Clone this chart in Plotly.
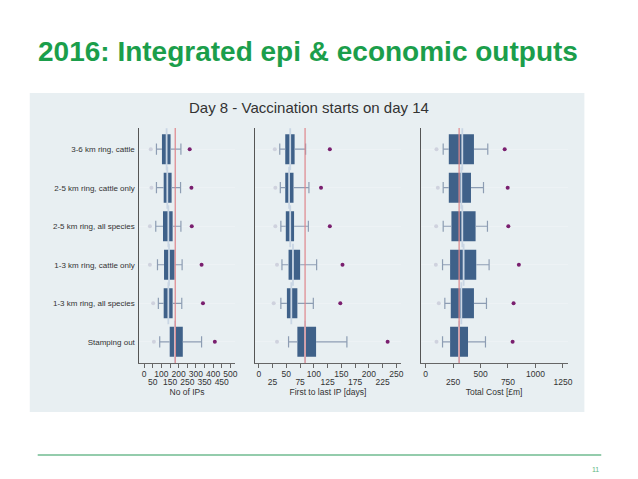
import plotly.graph_objects as go

categories = ["3-6 km ring, cattle", "2-5 km ring, cattle only", "2-5 km ring, all species",
              "1-3 km ring, cattle only", "1-3 km ring, all species", "Stamping out"]

# Panel 1: No of IPs
ips_low = [38, 42, 33, 33, 52, 56]
ips_wlo = [71, 71, 67, 77, 82, 90]
ips_q1 = [103, 113, 109, 115, 113, 148]
ips_med = [130, 134, 140, 144, 140, 178]
ips_q3 = [153, 159, 165, 176, 165, 224]
ips_whi = [213, 211, 213, 220, 218, 333]
ips_high = [264, 274, 276, 333, 341, 410]

# Panel 2: First to last IP [days]
days_low = [29, 30, 30, 33, 27, 33]
days_wlo = [38, 39, 40, 42, 40, 54]
days_q1 = [48, 48, 49, 54, 51, 70]
days_med = [57, 55, 57, 62, 59, 84]
days_q3 = [65, 63, 64, 75, 70, 104]
days_whi = [85, 91, 90, 105, 99, 160]
days_high = [129, 113, 129, 152, 148, 234]

# Panel 3: Total Cost [£m]
cost_low = [99, 111, 96, 93, 120, 99]
cost_wlo = [160, 160, 160, 154, 175, 154]
cost_q1 = [211, 211, 235, 223, 229, 223]
cost_med = [334, 325, 334, 346, 325, 304]
cost_q3 = [440, 413, 455, 461, 440, 386]
cost_whi = [566, 527, 563, 578, 554, 545]
cost_high = [720, 747, 753, 849, 801, 792]

# reference lines (stamping-out median)
ref_values = [180, 84, 305]

# tick labels (two staggered rows)
ips_ticks_top = [0, 100, 200, 300, 400, 500]
ips_ticks_bottom = [50, 150, 250, 350, 450]
days_ticks_top = [0, 50, 100, 150, 200, 250]
days_ticks_bottom = [25, 75, 125, 175, 225]
cost_ticks_top = [0, 500, 1000]
cost_ticks_bottom = [250, 750, 1250]

axis_titles = ["No of IPs", "First to last IP [days]", "Total Cost [£m]"]

W, H = 638, 479
def fx(px):
    return px / W
def fy(py):
    return 1 - py / H

FONT = "Liberation Sans, Arial, sans-serif"
BOX_COLOR = "#3f6189"
WHISK_COLOR = "#8d9db3"
MED_COLOR = "#c9d6e4"
LOW_COLOR = "#cfd2de"
HIGH_COLOR = "#7a1f6f"
RED = "#e0868b"
TXT = "#333333"

panels = [
    (ips_low, ips_wlo, ips_q1, ips_med, ips_q3, ips_whi, ips_high),
    (days_low, days_wlo, days_q1, days_med, days_q3, days_whi, days_high),
    (cost_low, cost_wlo, cost_q1, cost_med, cost_q3, cost_whi, cost_high),
]
tick_sets = [
    (ips_ticks_top, ips_ticks_bottom),
    (days_ticks_top, days_ticks_bottom),
    (cost_ticks_top, cost_ticks_bottom),
]
x_ranges = [[-28, 525], [-7, 258], [-45, 1292]]
x_domains = [[fx(140.5), fx(236.5)], [fx(257), fx(404)], [fx(424), fx(572)]]
y_domain = [fy(363), fy(128)]

fig = go.Figure()

for i, (low, wlo, q1, med, q3, whi, high) in enumerate(panels):
    xa = "x" if i == 0 else f"x{i+1}"
    ya = "y" if i == 0 else f"y{i+1}"
    # box bodies
    fig.add_trace(go.Bar(
        y=categories, x=[b - a for a, b in zip(q1, q3)], base=q1,
        orientation="h", width=0.78, marker=dict(color=BOX_COLOR, line=dict(width=0)),
        xaxis=xa, yaxis=ya, showlegend=False, hoverinfo="skip"))
    # whiskers
    wx, wy = [], []
    for c, a, b, c2, d in zip(categories, wlo, q1, q3, whi):
        wx += [a, b, None, c2, d, None]
        wy += [c, c, None, c, c, None]
    fig.add_trace(go.Scatter(x=wx, y=wy, mode="lines", line=dict(color=WHISK_COLOR, width=1.2),
                             xaxis=xa, yaxis=ya, showlegend=False, hoverinfo="skip"))
    # whisker caps
    fig.add_trace(go.Scatter(x=wlo + whi, y=categories + categories, mode="markers",
                             marker=dict(symbol="line-ns", size=8, line=dict(color=WHISK_COLOR, width=1.2)),
                             xaxis=xa, yaxis=ya, showlegend=False, hoverinfo="skip"))
    # medians
    fig.add_trace(go.Scatter(x=med, y=categories, mode="markers",
                             marker=dict(symbol="line-ns", size=30, line=dict(color=MED_COLOR, width=1.8)),
                             xaxis=xa, yaxis=ya, showlegend=False, hoverinfo="skip"))
    # low / high points
    fig.add_trace(go.Scatter(x=low, y=categories, mode="markers",
                             marker=dict(symbol="circle", size=4, color=LOW_COLOR),
                             xaxis=xa, yaxis=ya, showlegend=False, hoverinfo="skip"))
    fig.add_trace(go.Scatter(x=high, y=categories, mode="markers",
                             marker=dict(symbol="circle", size=4, color=HIGH_COLOR),
                             xaxis=xa, yaxis=ya, showlegend=False, hoverinfo="skip"))
    # invisible carrier trace so the staggered second tick row axis is drawn
    fig.add_trace(go.Scatter(x=tick_sets[i][1], y=[categories[0]] * len(tick_sets[i][1]),
                             mode="markers", marker=dict(size=1, opacity=0),
                             xaxis=f"x{i+4}", yaxis=ya, showlegend=False, hoverinfo="skip"))

layout = dict(
    width=W, height=H, autosize=False,
    margin=dict(l=0, r=0, t=0, b=0, pad=0),
    paper_bgcolor="white", plot_bgcolor="white",
    barmode="overlay", showlegend=False,
    font=dict(family=FONT, color=TXT),
)

for i in range(3):
    top, bottom = tick_sets[i]
    vals = sorted(top + bottom)
    texts = [str(v) if v in top else "" for v in vals]
    xkey = "xaxis" if i == 0 else f"xaxis{i+1}"
    okey = f"xaxis{i+4}"
    ykey = "yaxis" if i == 0 else f"yaxis{i+1}"
    ya = "y" if i == 0 else f"y{i+1}"
    xa = "x" if i == 0 else f"x{i+1}"
    layout[xkey] = dict(
        domain=x_domains[i], anchor=ya, range=x_ranges[i],
        tickmode="array", tickvals=vals, ticktext=texts, tickangle=0,
        ticks="outside", ticklen=4, tickcolor="#666666", tickwidth=1,
        showline=True, linecolor="#666666", linewidth=1,
        showgrid=False, zeroline=False,
        tickfont=dict(size=8.5, color=TXT, family=FONT),
        ticklabelstandoff=-1,
        fixedrange=True,
    )
    # second (staggered) row of tick labels + axis title
    layout[okey] = dict(
        overlaying=xa, anchor=ya, side="bottom", range=x_ranges[i],
        tickmode="array", tickvals=bottom, ticktext=[str(v) for v in bottom], tickangle=0,
        ticks="outside", ticklen=4, tickcolor="rgba(0,0,0,0)",
        showline=False, showgrid=False, zeroline=False,
        tickfont=dict(size=8.5, color=TXT, family=FONT),
        ticklabelstandoff=7,
        title=dict(text=axis_titles[i], font=dict(size=8.5, color=TXT, family=FONT), standoff=0),
        fixedrange=True,
    )
    layout[ykey] = dict(
        domain=y_domain, anchor=xa, type="category",
        categoryorder="array", categoryarray=categories,
        range=[5.55, -0.55],
        showline=True, linecolor="#555555", linewidth=1,
        showgrid=True, gridcolor="#edf2f5", gridwidth=1,
        zeroline=False, ticks="", showticklabels=(i == 0),
        tickfont=dict(size=8, color=TXT, family=FONT),
        ticklabelstandoff=2,
        fixedrange=True,
    )

shapes = [
    dict(type="rect", xref="paper", yref="paper", x0=fx(30), x1=fx(589), y0=fy(412), y1=fy(93),
         fillcolor="#e8eff2", line=dict(width=0), layer="below"),
    dict(type="line", xref="paper", yref="paper", x0=fx(38), x1=fx(606), y0=fy(455), y1=fy(455),
         line=dict(color="#2a9a5a", width=1.2)),
]
for i, v in enumerate(ref_values):
    xa = "x" if i == 0 else f"x{i+1}"
    ya = "y" if i == 0 else f"y{i+1}"
    shapes.append(dict(type="line", xref=xa, yref=f"{ya} domain", x0=v, x1=v, y0=0, y1=1,
                       line=dict(color=RED, width=1.2), layer="above"))
layout["shapes"] = shapes

layout["annotations"] = [
    dict(text="<b>2016: Integrated epi &amp; economic outputs</b>", xref="paper", yref="paper",
         x=fx(36), y=fy(51), xanchor="left", yanchor="middle", showarrow=False,
         font=dict(size=28, color="#1b9e4b", family=FONT)),
    dict(text="Day 8 - Vaccination starts on day 14", xref="paper", yref="paper",
         x=fx(311), y=fy(108), xanchor="center", yanchor="middle", showarrow=False,
         font=dict(size=15, color=TXT, family=FONT)),
    dict(text="11", xref="paper", yref="paper",
         x=fx(606), y=fy(469), xanchor="right", yanchor="middle", showarrow=False,
         font=dict(size=7, color="#5fb784", family=FONT)),
]

fig.update_layout(**layout)
fig.write_html("out.html", config={"displayModeBar": False, "staticPlot": True},
               post_script="document.body.style.margin='0';document.body.style.overflow='hidden';")
